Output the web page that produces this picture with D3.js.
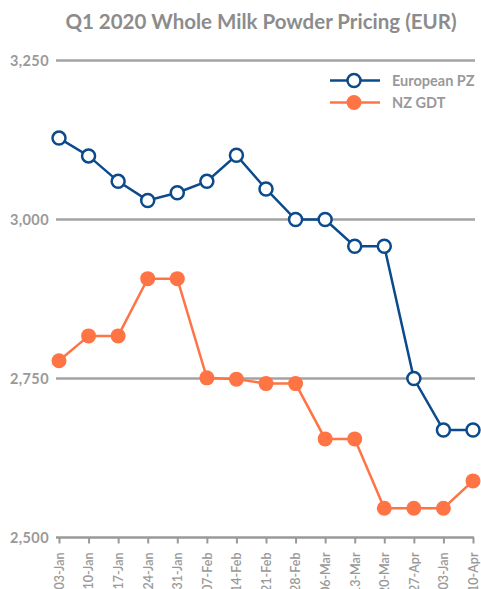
<!DOCTYPE html>
<html>
<head>
<meta charset="utf-8">
<script src="https://cdn.jsdelivr.net/npm/d3@7"></script>
<style>
body { margin: 0; background: #fff; }
text { font-family: Lato, "Open Sans", sans-serif; }
</style>
</head>
<body>
<div id="chart"></div>
<script>
const dates = ['03-Jan', '10-Jan', '17-Jan', '24-Jan', '31-Jan', '07-Feb', '14-Feb', '21-Feb',
    '28-Feb', '06-Mar', '13-Mar', '20-Mar', '27-Apr', '03-Jan', '10-Apr'];
const europeanPZ = [3128, 3100, 3060, 3030, 3042, 3060, 3101, 3048, 3000, 3000, 2958, 2958, 2750, 2669, 2669];
const nzGDT = [2778, 2817, 2817, 2907, 2907, 2751, 2749, 2742, 2742, 2655, 2655, 2546, 2546, 2546, 2589];
const yTicks = [2500, 2750, 3000, 3250];

const chartWidth = 481;
const chartHeight = 589;
const grey = '#999999';
const blue = '#0b4a8c';
const orange = '#ff7445';

const svg = d3.select('#chart')
    .append('svg')
    .attr('width', chartWidth)
    .attr('height', chartHeight);

const xScale = d3.scalePoint()
    .domain(d3.range(dates.length))
    .range([59, 473]);

const yScale = d3.scaleLinear()
    .domain([2500, 3250])
    .range([537.5, 60.5]);

svg.append('text')
    .attr('x', 261)
    .attr('y', 29)
    .attr('text-anchor', 'middle')
    .attr('font-size', 20.5)
    .attr('font-weight', 'bold')
    .attr('fill', '#8c8c8c')
    .text('Q1 2020 Whole Milk Powder Pricing (EUR)');

// gridlines
svg.append('g')
    .selectAll('line')
    .data(yTicks.slice(1))
    .enter()
    .append('line')
    .attr('x1', 56)
    .attr('x2', 475)
    .attr('y1', d => yScale(d))
    .attr('y2', d => yScale(d))
    .attr('stroke', '#a3a3a3')
    .attr('stroke-width', 2.5);

// y labels
svg.append('g')
    .selectAll('text')
    .data(yTicks)
    .enter()
    .append('text')
    .attr('x', 49)
    .attr('y', d => yScale(d))
    .attr('dy', '0.36em')
    .attr('text-anchor', 'end')
    .attr('font-size', 14.5)
    .attr('letter-spacing', 0.4)
    .attr('font-weight', 'bold')
    .attr('fill', grey)
    .text(d => d3.format(',')(d));

// x axis
const xAxis = d3.axisBottom(xScale)
    .tickSize(6)
    .tickSizeOuter(0)
    .tickFormat(i => dates[i]);

const gx = svg.append('g')
    .attr('class', 'x-axis')
    .attr('transform', 'translate(0,' + yScale(2500) + ')')
    .call(xAxis);

gx.select('.domain')
    .attr('d', 'M56,0H474')
    .attr('stroke', grey)
    .attr('stroke-width', 2.5);

gx.selectAll('.tick line')
    .attr('stroke', grey)
    .attr('stroke-width', 2);

gx.selectAll('.tick text')
    .attr('transform', 'rotate(-90)')
    .attr('x', -15)
    .attr('y', 0)
    .attr('dy', '0.35em')
    .attr('text-anchor', 'end')
    .attr('font-size', 12.5)
    .attr('font-family', 'Lato, sans-serif')
    .attr('font-weight', 600)
    .attr('fill', grey);

const line = d3.line()
    .x((d, i) => xScale(i))
    .y(d => yScale(d));

svg.append('path')
    .datum(nzGDT)
    .attr('d', line)
    .attr('fill', 'none')
    .attr('stroke', orange)
    .attr('stroke-width', 2.5);

svg.append('g')
    .selectAll('circle')
    .data(nzGDT)
    .enter()
    .append('circle')
    .attr('cx', (d, i) => xScale(i))
    .attr('cy', d => yScale(d))
    .attr('r', 7.5)
    .attr('fill', orange);

svg.append('path')
    .datum(europeanPZ)
    .attr('d', line)
    .attr('fill', 'none')
    .attr('stroke', blue)
    .attr('stroke-width', 2.5);

svg.append('g')
    .selectAll('circle')
    .data(europeanPZ)
    .enter()
    .append('circle')
    .attr('cx', (d, i) => xScale(i))
    .attr('cy', d => yScale(d))
    .attr('r', 6.5)
    .attr('fill', '#fff')
    .attr('stroke', blue)
    .attr('stroke-width', 2.5);

// legend
const legend = svg.append('g');
const legendItems = [
    { name: 'European PZ', color: blue, open: true, y: 80.5 },
    { name: 'NZ GDT', color: orange, open: false, y: 102.5 }
];
legendItems.forEach(item => {
    legend.append('line')
        .attr('x1', 330)
        .attr('x2', 380)
        .attr('y1', item.y)
        .attr('y2', item.y)
        .attr('stroke', item.color)
        .attr('stroke-width', 2.5);
    legend.append('circle')
        .attr('cx', 354)
        .attr('cy', item.y)
        .attr('r', item.open ? 6.5 : 7.5)
        .attr('fill', item.open ? '#fff' : item.color)
        .attr('stroke', item.open ? item.color : 'none')
        .attr('stroke-width', 2.5);
    legend.append('text')
        .attr('x', 392)
        .attr('y', item.y)
        .attr('dy', '0.36em')
        .attr('font-size', 14.5)
        .attr('font-weight', 'bold')
        .attr('fill', grey)
        .text(item.name);
});
</script>
</body>
</html>
